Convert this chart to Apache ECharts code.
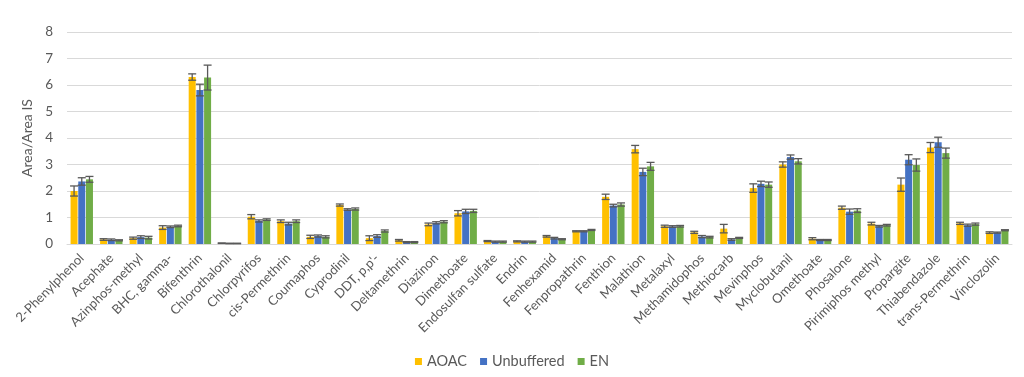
<!DOCTYPE html>
<html>
<head>
<meta charset="utf-8">
<script src="https://cdn.jsdelivr.net/npm/echarts@6/dist/echarts.min.js"></script>
<style>
  html, body { margin: 0; padding: 0; background: #fff; }
  #chart { width: 1024px; height: 377px; }
</style>
</head>
<body>
<div id="chart"></div>
<script>
const categories = ['2-Phenylphenol', 'Acephate', 'Azinphos-methyl', 'BHC, gamma-', 'Bifenthrin',
  'Chlorothalonil', 'Chlorpyrifos', 'cis-Permethrin', 'Coumaphos', 'Cyprodinil', "DDT, p,p'-",
  'Deltamethrin', 'Diazinon', 'Dimethoate', 'Endosulfan sulfate', 'Endrin', 'Fenhexamid',
  'Fenpropathrin', 'Fenthion', 'Malathion', 'Metalaxyl', 'Methamidophos', 'Methiocarb',
  'Mevinphos', 'Myclobutanil', 'Omethoate', 'Phosalone', 'Pirimiphos methyl', 'Propargite',
  'Thiabendazole', 'trans-Permethrin', 'Vinclozolin'];

const aoac = [2.0, 0.17, 0.22, 0.62, 6.3, 0.03, 1.03, 0.86, 0.27, 1.47, 0.22,
  0.14, 0.74, 1.16, 0.11, 0.1, 0.29, 0.48, 1.78, 3.58, 0.67, 0.44, 0.58,
  2.11, 3.0, 0.2, 1.37, 0.77, 2.24, 3.64, 0.78, 0.43];
const aoacErr = [0.19, 0.03, 0.04, 0.07, 0.12, 0.01, 0.08, 0.05, 0.06, 0.04, 0.09,
  0.03, 0.05, 0.1, 0.02, 0.02, 0.03, 0.02, 0.1, 0.14, 0.04, 0.04, 0.16,
  0.16, 0.1, 0.04, 0.06, 0.05, 0.25, 0.19, 0.04, 0.03];

const unbuffered = [2.36, 0.16, 0.26, 0.65, 5.81, 0.02, 0.87, 0.77, 0.3, 1.3, 0.3,
  0.07, 0.8, 1.23, 0.09, 0.09, 0.22, 0.48, 1.45, 2.72, 0.66, 0.28, 0.17,
  2.27, 3.28, 0.15, 1.22, 0.67, 3.18, 3.84, 0.71, 0.43];
const unbufferedErr = [0.14, 0.03, 0.05, 0.03, 0.22, 0.01, 0.04, 0.05, 0.04, 0.03, 0.05,
  0.02, 0.04, 0.08, 0.02, 0.02, 0.03, 0.02, 0.05, 0.14, 0.03, 0.04, 0.03,
  0.1, 0.08, 0.02, 0.1, 0.03, 0.19, 0.19, 0.04, 0.02];

const en = [2.44, 0.14, 0.24, 0.68, 6.28, 0.02, 0.92, 0.86, 0.27, 1.32, 0.49,
  0.07, 0.84, 1.25, 0.09, 0.09, 0.18, 0.53, 1.49, 2.93, 0.67, 0.26, 0.23,
  2.24, 3.12, 0.15, 1.26, 0.71, 2.98, 3.43, 0.75, 0.52];
const enErr = [0.11, 0.02, 0.05, 0.03, 0.47, 0.01, 0.03, 0.05, 0.04, 0.04, 0.04,
  0.02, 0.04, 0.06, 0.02, 0.02, 0.02, 0.02, 0.06, 0.15, 0.03, 0.03, 0.02,
  0.1, 0.1, 0.02, 0.07, 0.03, 0.23, 0.19, 0.04, 0.02];

const seriesNames = ['AOAC', 'Unbuffered', 'EN'];
const colors = ['#FFC000', '#4472C4', '#70AD47'];

const BAR_W = 7;
const BAR_STEP = 7.7;
const textColor = '#595959';
const font = 'Lato, "Open Sans", sans-serif';

// error bars drawn as a custom series on top of each bar
function errorSeries(values, errs, offsetIndex) {
  let data = values.map((v, i) => [i, v - errs[i], v + errs[i]]);
  return {
    type: 'custom',
    name: seriesNames[offsetIndex] + ' err',
    silent: true,
    z: 10,
    data: data,
    encode: { x: 0, y: [1, 2] },
    renderItem: function (params, api) {
      const idx = api.value(0);
      const lo = api.coord([idx, api.value(1)]);
      const hi = api.coord([idx, api.value(2)]);
      const x = lo[0] + (offsetIndex - 1) * BAR_STEP;
      const half = 4;
      const style = { stroke: '#595959', lineWidth: 1.3 };
      return {
        type: 'group',
        children: [
          { type: 'line', shape: { x1: x, y1: lo[1], x2: x, y2: hi[1] }, style: style },
          { type: 'line', shape: { x1: x - half, y1: lo[1], x2: x + half, y2: lo[1] }, style: style },
          { type: 'line', shape: { x1: x - half, y1: hi[1], x2: x + half, y2: hi[1] }, style: style }
        ]
      };
    }
  };
}

const chart = echarts.init(document.getElementById('chart'));
chart.setOption({
  animation: false,
  textStyle: { fontFamily: font },
  color: colors,
  grid: { left: 67, right: 12, top: 32, bottom: 133 },
  legend: {
    data: seriesNames,
    bottom: 3,
    left: 'center',
    icon: 'rect',
    itemWidth: 7,
    itemHeight: 7,
    itemGap: 13,
    textStyle: { color: textColor, fontSize: 14.5, fontFamily: font }
  },
  xAxis: {
    type: 'category',
    data: categories,
    axisTick: { show: false },
    axisLine: { lineStyle: { color: '#d9d9d9', width: 1 } },
    axisLabel: {
      interval: 0,
      rotate: 45,
      color: textColor,
      fontSize: 13,
      margin: 12,
      fontFamily: font
    }
  },
  yAxis: {
    type: 'value',
    min: 0,
    max: 8,
    interval: 1,
    name: 'Area/Area IS',
    nameLocation: 'middle',
    nameGap: 23,
    nameTextStyle: { color: textColor, fontSize: 14, fontFamily: font },
    axisLine: { show: false },
    axisTick: { show: false },
    axisLabel: { color: textColor, fontSize: 13.5, margin: 14, fontFamily: font },
    splitLine: { lineStyle: { color: '#d9d9d9', width: 1 } }
  },
  series: [
    { name: 'AOAC', type: 'bar', data: aoac, barWidth: BAR_W, barGap: '10%' },
    { name: 'Unbuffered', type: 'bar', data: unbuffered, barWidth: BAR_W, barGap: '10%' },
    { name: 'EN', type: 'bar', data: en, barWidth: BAR_W, barGap: '10%' },
    errorSeries(aoac, aoacErr, 0),
    errorSeries(unbuffered, unbufferedErr, 1),
    errorSeries(en, enErr, 2)
  ]
});
</script>
</body>
</html>
